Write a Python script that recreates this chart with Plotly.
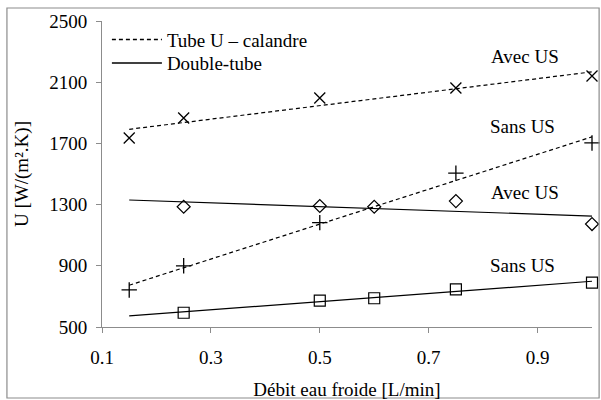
import numpy as np
import plotly.graph_objects as go

# ---- data ----
x_tube = [0.15, 0.25, 0.5, 0.75, 1.0]
tube_avec = [1735, 1866, 1997, 2062, 2140]
tube_sans = [742, 900, 1182, 1506, 1703]

x_double = [0.25, 0.5, 0.6, 0.75, 1.0]
double_avec = [1286, 1291, 1286, 1323, 1173]
double_sans = [593, 672, 688, 746, 790]

x_ticks = [0.1, 0.3, 0.5, 0.7, 0.9]
y_ticks = [500, 900, 1300, 1700, 2100, 2500]

labels = ["Avec US", "Sans US", "Avec US", "Sans US"]
label_x = [0.877, 0.872, 0.877, 0.872]
label_y = [2265, 1812, 1378, 905]

FONT = "Liberation Serif, Times New Roman, serif"
FS = 19
fig = go.Figure()

trend_x = np.array([min(x_tube), max(x_tube)])

def trend(x, y):
    p = np.polyfit(x, y, 1)
    return np.polyval(p, trend_x)

dash = "4px,3px"
# trend lines
for xs, ys, d in [(x_tube, tube_avec, dash), (x_tube, tube_sans, dash),
                  (x_double, double_avec, "solid"), (x_double, double_sans, "solid")]:
    fig.add_trace(go.Scatter(x=trend_x, y=trend(xs, ys), mode="lines",
                             line=dict(color="black", width=1.2, dash=d),
                             showlegend=False, hoverinfo="skip", cliponaxis=False))

# markers
fig.add_trace(go.Scatter(x=x_tube, y=tube_avec, mode="markers", showlegend=False, cliponaxis=False,
                         marker=dict(symbol="x-thin", size=11, color="black",
                                     line=dict(color="black", width=1.3))))
fig.add_trace(go.Scatter(x=x_tube, y=tube_sans, mode="markers", showlegend=False, cliponaxis=False,
                         marker=dict(symbol="cross-thin", size=11, color="black",
                                     line=dict(color="black", width=1.3))))
fig.add_trace(go.Scatter(x=x_double, y=double_avec, mode="markers", showlegend=False, cliponaxis=False,
                         marker=dict(symbol="diamond-open", size=10, color="black",
                                     line=dict(color="black", width=1.2))))
fig.add_trace(go.Scatter(x=x_double, y=double_sans, mode="markers", showlegend=False, cliponaxis=False,
                         marker=dict(symbol="square-open", size=11, color="black",
                                     line=dict(color="black", width=1.2))))

# legend entries (one legend box per entry for exact row spacing)
fig.add_trace(go.Scatter(x=[None], y=[None], mode="lines", name="Tube U \u2013 calandre",
                         legend="legend",
                         line=dict(color="black", width=1.5, dash=dash)))
fig.add_trace(go.Scatter(x=[None], y=[None], mode="lines", name="Double-tube",
                         legend="legend2",
                         line=dict(color="black", width=1.5)))

for t, xx, yy in zip(labels, label_x, label_y):
    fig.add_annotation(x=xx, y=yy, text=t, showarrow=False, xanchor="center",
                       yanchor="middle", font=dict(family=FONT, size=FS, color="black"))

# outer frame
fig.add_shape(type="rect", xref="paper", yref="paper",
              x0=-0.194, x1=1.0145, y0=-0.232, y1=1.0425,
              line=dict(color="#8c8c8c", width=1.2), fillcolor="rgba(0,0,0,0)")

axis_common = dict(showgrid=False, zeroline=False, showline=True, linecolor="#8c8c8c",
                   linewidth=1, ticks="outside", ticklen=5, tickcolor="#8c8c8c",
                   automargin=False,
                   tickfont=dict(family=FONT, size=FS, color="black"))

legend_common = dict(x=0.01, xanchor="left", yanchor="middle",
                     bgcolor="rgba(0,0,0,0)", font=dict(family=FONT, size=FS, color="black"),
                     itemwidth=50)

fig.update_layout(
    width=601, height=400,
    margin=dict(l=102, r=9, t=21, b=73),
    paper_bgcolor="white", plot_bgcolor="white",
    font=dict(family=FONT, size=FS, color="black"),
    showlegend=True,
    legend=dict(y=0.939, **legend_common),
    legend2=dict(y=0.862, **legend_common),
    xaxis=dict(range=[0.1, 1.0], tickvals=x_ticks, ticktext=[f"{v:.1f}" for v in x_ticks],
               ticklabelstandoff=8,
               title=dict(text="Débit eau froide [L/min]", font=dict(family=FONT, size=FS),
                          standoff=18),
               **axis_common),
    yaxis=dict(range=[500, 2500], tickvals=y_ticks, ticktext=[str(v) for v in y_ticks],
               ticklabelstandoff=5,
               title=dict(text="U [W/(m².K)]", font=dict(family=FONT, size=FS), standoff=15),
               **axis_common),
)

fig.write_html("out.html", config={"displayModeBar": False},
               post_script="document.body.style.margin='0';")
